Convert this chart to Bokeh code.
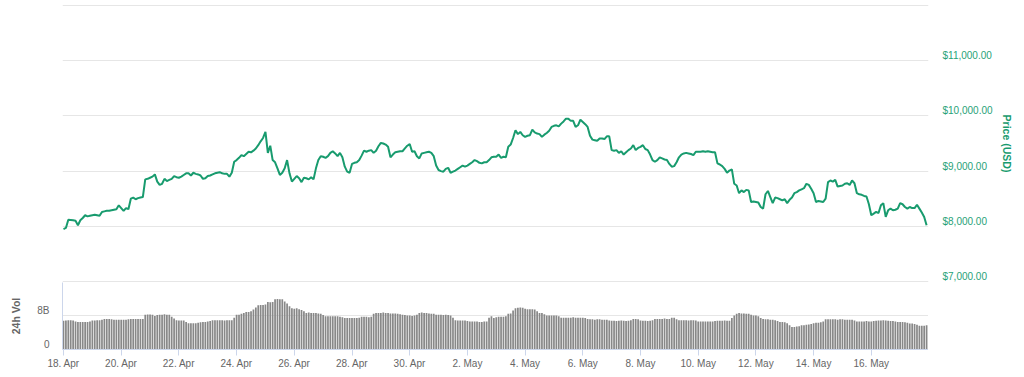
from datetime import datetime, timedelta
from bokeh.plotting import figure
from bokeh.layouts import column
from bokeh.models import Range1d, FixedTicker, ColumnDataSource
from bokeh.embed import file_html
from bokeh.resources import INLINE

# ---------------- data (2-hourly samples from 18 Apr 2018 00:00) ----------------
start = datetime(2018, 4, 18)
step_hours = 2

price_usd = [
    7950, 7970, 8120, 8115, 8110, 8100, 8020, 8110, 8150, 8200, 8180, 8190,
    8200, 8210, 8200, 8190, 8260, 8270, 8280, 8280, 8290, 8300, 8310, 8380,
    8330, 8280, 8330, 8310, 8500, 8520, 8490, 8510, 8520, 8530, 8850, 8860,
    8880, 8900, 8940, 8810, 8750, 8770, 8860, 8820, 8840, 8860, 8910, 8890,
    8880, 8900, 8930, 8960, 8960, 8920, 8970, 8950, 8940, 8920, 8860, 8870,
    8910, 8920, 8940, 8960, 8970, 8980, 8960, 8950, 8950, 8900, 8970, 9170,
    9200, 9240, 9290, 9270, 9310, 9350, 9340, 9370, 9410, 9470, 9540, 9600,
    9710, 9330, 9460, 9200, 9160, 9050, 8930, 8970, 9050, 9200, 8960, 8810,
    8860, 8910, 8870, 8800, 8880, 8870, 8850, 8890, 8850, 9050, 9200, 9270,
    9260, 9240, 9270, 9330, 9360, 9320, 9270, 9330, 9250, 9080, 8990, 8970,
    9130, 9150, 9160, 9200, 9280, 9370, 9350, 9370, 9380, 9330, 9370, 9450,
    9510, 9500, 9480, 9440, 9250, 9300, 9340, 9350, 9360, 9360, 9410, 9460,
    9490, 9350, 9360, 9270, 9230, 9320, 9330, 9340, 9350, 9330, 9270, 9100,
    9020, 9000, 8990, 9040, 9060, 8970, 8990, 9010, 9040, 9070, 9100, 9080,
    9100, 9130, 9160, 9200, 9180, 9150, 9140, 9160, 9160, 9200, 9250, 9260,
    9260, 9300, 9240, 9260, 9250, 9440, 9480, 9600, 9740, 9670, 9710, 9650,
    9620, 9640, 9650, 9750, 9700, 9680, 9670, 9620, 9660, 9690, 9730, 9800,
    9820, 9830, 9810, 9860, 9900, 9950, 9950, 9910, 9910, 9800, 9830, 9930,
    9890, 9850, 9800, 9640, 9570, 9560, 9550, 9590, 9590, 9580, 9630, 9630,
    9380, 9370, 9380, 9330, 9360, 9300, 9340, 9380, 9410, 9470, 9380, 9420,
    9440, 9470, 9400, 9380, 9300, 9200, 9170, 9200, 9250, 9230, 9210, 9200,
    9130, 9080, 9090, 9160, 9250, 9300, 9320, 9330, 9320, 9310, 9290, 9350,
    9350, 9350, 9360, 9350, 9360, 9350, 9340, 9340, 9140, 9120, 9090, 9040,
    8970, 9010, 9030, 8770, 8740, 8600, 8650, 8620, 8660, 8650, 8440, 8450,
    8440, 8430, 8350, 8320, 8580, 8640, 8530, 8420, 8520, 8510, 8490, 8470,
    8490, 8420, 8480, 8520, 8600, 8620, 8650, 8670, 8690, 8770, 8750, 8680,
    8600, 8440, 8460, 8450, 8440, 8500, 8800, 8830, 8810, 8840, 8720, 8730,
    8740, 8770, 8780, 8750, 8830, 8780, 8600, 8580, 8570, 8550, 8540, 8400,
    8200, 8230, 8260, 8240, 8380, 8420, 8170, 8290, 8320, 8290, 8300, 8320,
    8420, 8400, 8350, 8320, 8350, 8330, 8330, 8390, 8320, 8250, 8170, 8020,
]

volume_b = [
    6.75, 6.8, 6.9, 6.9, 6.8, 6.6, 6.5, 6.5, 6.5, 6.5, 6.5, 6.6,
    6.8, 6.85, 6.9, 6.9, 7.0, 7.2, 7.2, 7.2, 7.1, 7.0, 7.0, 7.0,
    7.0, 7.0, 7.0, 7.1, 7.15, 7.15, 7.2, 7.15, 7.15, 7.2, 8.2, 8.25,
    8.25, 8.2, 7.9, 8.1, 8.2, 8.2, 8.3, 8.2, 8.2, 7.7, 7.3, 6.9,
    6.85, 6.8, 6.8, 6.5, 6.2, 6.2, 6.2, 6.2, 6.3, 6.4, 6.5, 6.5,
    6.6, 6.7, 6.9, 6.9, 6.9, 6.9, 6.9, 6.85, 6.9, 6.9, 6.9, 7.5,
    8.2, 8.2, 8.4, 8.6, 8.8, 8.8, 9.0, 9.4, 9.9, 10.4, 10.5, 10.5,
    10.6, 11.2, 11.1, 11.2, 11.8, 11.9, 11.8, 11.8, 11.3, 10.8, 10.2, 9.7,
    9.6, 9.7, 9.5, 9.3, 9.0, 8.6, 8.7, 8.6, 8.6, 8.6, 8.5, 8.4,
    8.1, 7.8, 7.8, 7.8, 7.8, 7.8, 7.8, 7.7, 7.6, 7.4, 7.4, 7.4,
    7.4, 7.4, 7.4, 7.5, 7.7, 7.7, 7.7, 7.6, 7.7, 8.4, 8.6, 8.6,
    8.6, 8.7, 8.6, 8.6, 8.5, 8.5, 8.5, 8.4, 8.3, 8.2, 8.1, 8.0,
    8.0, 7.9, 8.0, 8.2, 8.6, 8.7, 8.6, 8.6, 8.5, 8.4, 8.4, 8.2,
    8.2, 8.2, 8.1, 8.2, 8.1, 8.0, 7.5, 6.9, 6.85, 6.8, 6.8, 6.8,
    6.7, 6.6, 6.6, 6.6, 6.6, 6.5, 6.5, 6.6, 6.6, 7.5, 7.8, 7.4,
    7.6, 7.7, 7.7, 7.7, 7.8, 8.4, 8.5, 9.2, 9.7, 9.8, 9.9, 9.8,
    9.6, 9.5, 9.5, 9.5, 9.4, 9.0, 8.6, 8.6, 8.3, 8.0, 8.0, 8.0,
    8.0, 8.0, 7.8, 7.5, 7.5, 7.5, 7.5, 7.5, 7.6, 7.5, 7.5, 7.5,
    7.5, 7.4, 7.2, 7.1, 7.1, 7.0, 7.1, 7.1, 7.0, 7.0, 7.0, 6.8,
    6.75, 6.75, 6.7, 6.75, 6.8, 6.75, 6.7, 6.75, 6.9, 7.2, 7.2, 7.1,
    6.8, 6.75, 6.75, 6.7, 6.75, 6.9, 7.2, 7.2, 7.2, 7.2, 7.3, 7.2,
    7.2, 7.5, 7.5, 7.1, 6.9, 6.9, 6.9, 6.9, 6.8, 6.9, 6.9, 6.8,
    6.6, 6.6, 6.6, 6.6, 6.6, 6.6, 6.6, 6.7, 6.75, 6.75, 6.75, 6.8,
    6.75, 6.75, 7.4, 8.0, 8.4, 8.6, 8.5, 8.5, 8.4, 8.4, 8.2, 8.0,
    8.0, 7.8, 7.4, 7.2, 7.1, 7.1, 7.0, 7.0, 6.9, 6.7, 6.5, 6.5,
    6.4, 6.2, 5.7, 5.3, 5.3, 5.4, 5.5, 5.7, 5.7, 5.8, 5.9, 6.0,
    6.2, 6.3, 6.3, 6.4, 6.6, 7.1, 7.1, 7.1, 7.1, 7.1, 7.0, 7.1,
    7.1, 7.0, 7.0, 7.0, 7.0, 6.8, 6.6, 6.6, 6.6, 6.6, 6.7, 6.6,
    6.6, 6.7, 6.75, 6.8, 6.8, 6.9, 6.8, 6.75, 6.7, 6.7, 6.6, 6.5,
    6.5, 6.5, 6.4, 6.3, 6.1, 6.1, 6.0, 5.8, 5.6, 5.6, 5.6, 5.7,
]

date_ticks = [(4, 18), (4, 20), (4, 22), (4, 24), (4, 26), (4, 28), (4, 30),
              (5, 2), (5, 4), (5, 6), (5, 8), (5, 10), (5, 12), (5, 14), (5, 16)]
date_tick_labels = ["18. Apr", "20. Apr", "22. Apr", "24. Apr", "26. Apr", "28. Apr",
                    "30. Apr", "2. May", "4. May", "6. May", "8. May", "10. May",
                    "12. May", "14. May", "16. May"]

price_ticks = [7000, 8000, 9000, 10000, 11000, 12000]
price_tick_labels = ["$7,000.00", "$8,000.00", "$9,000.00", "$10,000.00", "$11,000.00"]
price_title = "Price (USD)"

vol_ticks = [0, 8]
vol_tick_labels = ["0", "8B"]
vol_title = "24h Vol"

# ---------------- helpers / styling ----------------
EPOCH = datetime(1970, 1, 1)


def ms(dt):
    return (dt - EPOCH).total_seconds() * 1000.0


t_ms = [ms(start + timedelta(hours=step_hours * i)) for i in range(len(price_usd))]
src = ColumnDataSource(dict(t=t_ms, price=price_usd, vol=volume_b))

GREEN = "#189b6e"
LABEL_GREEN = "#27a277"
GREY_TXT = "#666666"
GRID = "#e6e6e6"
AXIS = "#ccd6eb"
FONT = "Liberation Sans"

FRAME_W = 866
PX_PER_1000 = 55.2       # price pane scale
PAD_PX = 1               # keep edge gridlines 1px inside the frame
PRICE_H = round(5 * PX_PER_1000) + 2 * PAD_PX
VOL_H = 67
PX_PER_B = 4.25
LIFT_PX = 5

pad_usd = PAD_PX / PX_PER_1000 * 1000
x_range = Range1d(ms(datetime(2018, 4, 17, 23, 10)), ms(datetime(2018, 5, 17, 23, 35)))


def base_style(fig):
    fig.outline_line_color = None
    fig.background_fill_color = "white"
    fig.border_fill_color = "white"
    fig.xgrid.visible = False
    fig.ygrid[0].grid_line_color = GRID


# ---------------- price pane ----------------
p1 = figure(x_axis_type="datetime", x_range=x_range,
            y_range=Range1d(7000 - pad_usd, 12000 + pad_usd),
            frame_width=FRAME_W, frame_height=PRICE_H,
            min_border_left=62, min_border_right=0, min_border_top=4, min_border_bottom=0,
            x_axis_location=None, y_axis_location="right",
            output_backend="svg", toolbar_location=None)
base_style(p1)
p1.ygrid[0].ticker = FixedTicker(ticks=price_ticks)
p1.line(x="t", y="price", source=src, line_color=GREEN, line_width=2)

price_lift = round(LIFT_PX / PX_PER_1000 * 1000)
price_label_pos = [v + price_lift for v in price_ticks[:len(price_tick_labels)]]
ya = p1.yaxis[0]
ya.ticker = FixedTicker(ticks=price_label_pos)
ya.major_label_overrides = {k: lab for k, lab in zip(price_label_pos, price_tick_labels)}
ya.axis_line_color = None
ya.major_tick_line_color = None
ya.minor_tick_line_color = None
ya.major_tick_out = 0
ya.major_tick_in = 0
ya.major_label_standoff = 14
ya.major_label_text_color = LABEL_GREEN
ya.major_label_text_font = FONT
ya.major_label_text_font_size = "10px"
ya.axis_label = price_title
ya.axis_label_standoff = 5
ya.axis_label_text_color = GREEN
ya.axis_label_text_font = FONT
ya.axis_label_text_font_style = "bold"
ya.axis_label_text_font_size = "10.5px"

# ---------------- volume pane ----------------
p2 = figure(x_axis_type="datetime", x_range=x_range, y_range=Range1d(0, VOL_H / PX_PER_B),
            frame_width=FRAME_W, frame_height=VOL_H,
            min_border_left=62, min_border_right=0, min_border_top=0, min_border_bottom=0,
            output_backend="svg", toolbar_location=None)
base_style(p2)
p2.ygrid[0].ticker = FixedTicker(ticks=vol_ticks[1:])

bar_w = step_hours * 3600 * 1000 * 0.72
p2.vbar(x="t", top="vol", bottom=0, width=bar_w, source=src,
        fill_color="#888888", line_color=None)

vol_lift = round(LIFT_PX / PX_PER_B, 2)
vol_label_pos = [v + vol_lift for v in vol_ticks]
va = p2.yaxis[0]
va.ticker = FixedTicker(ticks=vol_label_pos)
va.major_label_overrides = {k: lab for k, lab in zip(vol_label_pos, vol_tick_labels)}
va.axis_line_color = AXIS
va.major_tick_line_color = None
va.minor_tick_line_color = None
va.major_tick_out = 0
va.major_tick_in = 0
va.major_label_standoff = 13
va.major_label_text_color = GREY_TXT
va.major_label_text_font = FONT
va.major_label_text_font_size = "10px"
va.axis_label = vol_title
va.axis_label_standoff = 12
va.axis_label_text_color = GREY_TXT
va.axis_label_text_font = FONT
va.axis_label_text_font_style = "bold"
va.axis_label_text_font_size = "10.5px"

tick_ms = [ms(datetime(2018, m, d)) for m, d in date_ticks]
xa = p2.xaxis[0]
xa.ticker = FixedTicker(ticks=tick_ms)
xa.major_label_overrides = {k: lab for k, lab in zip(tick_ms, date_tick_labels)}
xa.axis_line_color = AXIS
xa.major_tick_line_color = AXIS
xa.major_tick_out = 6
xa.major_tick_in = 0
xa.minor_tick_line_color = None
xa.major_label_standoff = 2
xa.major_label_text_color = GREY_TXT
xa.major_label_text_font = FONT
xa.major_label_text_font_size = "10px"

layout = column(p1, p2, spacing=0)
open("out.html", "w").write(file_html(layout, INLINE))
